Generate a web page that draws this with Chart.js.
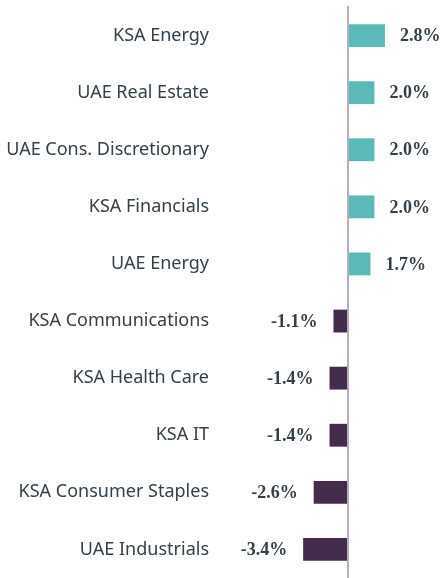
<!DOCTYPE html>
<html>
<head>
<meta charset="utf-8">
<script src="https://cdn.jsdelivr.net/npm/chart.js@4"></script>
<style>
  html, body { margin: 0; padding: 0; background: #fff; overflow: hidden; }
  #wrap { width: 443px; height: 578px; position: relative; }
</style>
</head>
<body>
<div id="wrap"><canvas id="chart"></canvas></div>
<script>
const sectors = ['KSA Energy', 'UAE Real Estate', 'UAE Cons. Discretionary', 'KSA Financials', 'UAE Energy',
  'KSA Communications', 'KSA Health Care', 'KSA IT', 'KSA Consumer Staples', 'UAE Industrials']
const returns = [2.8, 2.0, 2.0, 2.0, 1.7, -1.1, -1.4, -1.4, -2.6, -3.4]

const teal = '#5bbab7'
const plum = '#432c4c'
const textColor = '#34404a'

// zero line + value labels
const extras = {
  id: 'extras',
  afterDatasetsDraw(chart) {
    const ctx = chart.ctx
    const x = chart.scales.x
    const area = chart.chartArea
    const zx = Math.round(x.getPixelForValue(0))
    ctx.save()
    ctx.strokeStyle = '#b8adbf'
    ctx.lineWidth = 2
    ctx.beginPath()
    ctx.moveTo(zx, 6)
    ctx.lineTo(zx, area.bottom)
    ctx.stroke()

    ctx.font = 'bold 18px "Liberation Serif"'
    ctx.fillStyle = textColor
    ctx.textBaseline = 'middle'
    chart.getDatasetMeta(0).data.forEach((bar, i) => {
      const v = returns[i]
      const label = v.toFixed(1) + '%'
      if (v >= 0) {
        ctx.textAlign = 'left'
        ctx.fillText(label, bar.x + 15, bar.y + 1)
      } else {
        ctx.textAlign = 'right'
        ctx.fillText(label, bar.x - 16, bar.y + 1)
      }
    })
    ctx.restore()
  }
}

new Chart(document.getElementById('chart'), {
  type: 'bar',
  data: {
    labels: sectors,
    datasets: [{
      data: returns,
      backgroundColor: returns.map(v => v >= 0 ? teal : plum),
      borderWidth: 0,
      categoryPercentage: 1,
      barPercentage: 0.4
    }]
  },
  options: {
    indexAxis: 'y',
    responsive: true,
    maintainAspectRatio: false,
    animation: false,
    layout: { padding: { top: 7, right: 0, bottom: -2, left: 0 } },
    plugins: { legend: { display: false }, tooltip: { enabled: false } },
    scales: {
      x: {
        min: -9.7,
        max: 7.2,
        display: false
      },
      y: {
        grid: { display: false },
        border: { display: false },
        ticks: {
          color: textColor,
          font: { family: '"Noto Sans"', size: 18 },
          padding: 3
        },
        afterFit(scale) {
          scale.width = 220
          scale.paddingTop = 0
          scale.paddingBottom = 0
        }
      }
    }
  },
  plugins: [extras]
})
</script>
</body>
</html>
